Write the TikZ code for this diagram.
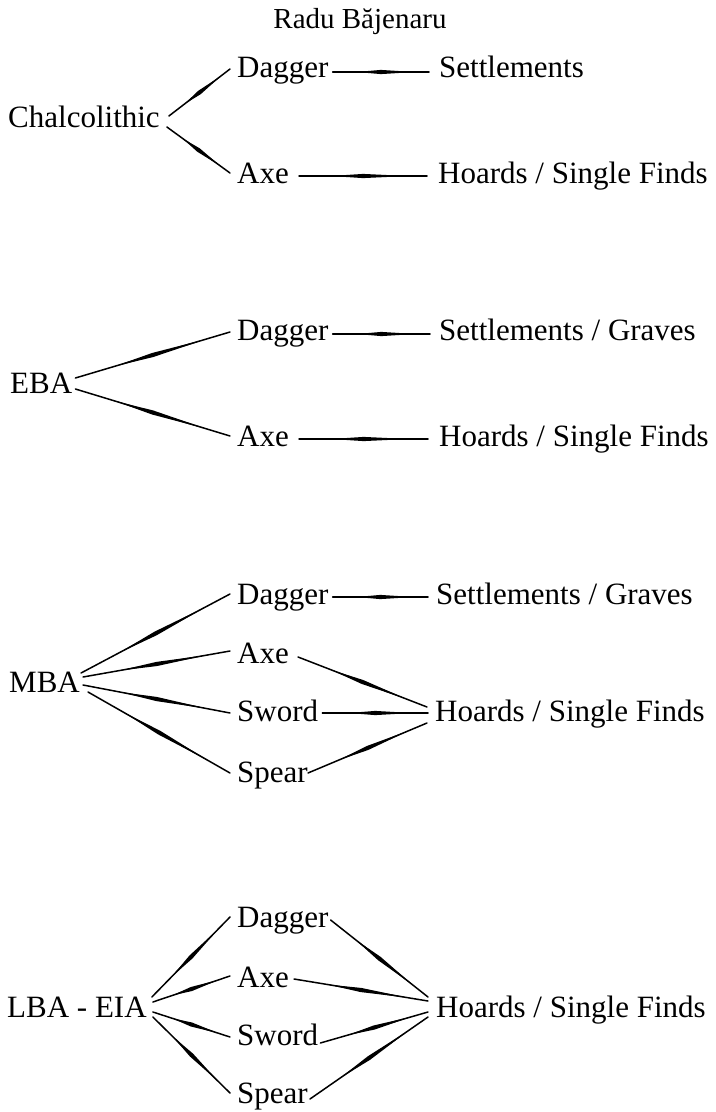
\documentclass[tikz,border=0pt]{standalone}
\usepackage{fontspec}
\setmainfont{Liberation Serif}
\usetikzlibrary{calc}
\tikzset{
  lbl/.style={inner sep=0pt, anchor=base west, font=\fontsize{31bp}{36bp}\selectfont},
  ttl/.style={inner sep=0pt, anchor=base, font=\fontsize{29bp}{32bp}\selectfont},
  conline/.style={line width=1.5bp, line cap=round},
}
\newcommand\conn[4]{%
  \coordinate (cp) at ($(#1)+(#2)$);
  \coordinate (cq) at ($(#3)+(#4)$);
  \draw[conline] (cp) -- (cq);
  \fill ($(cp)!0.25!(cq)$) -- ($(cp)!0.5!(cq)!2.1bp!90:(cq)$) -- ($(cp)!0.85!(cq)$) -- ($(cp)!0.5!(cq)!2.1bp!-90:(cq)$) -- cycle;}
\begin{document}
\begin{tikzpicture}[x=1bp,y=-1bp]
\path[use as bounding box, fill=white] (0,0) rectangle (716,1112);
\node[ttl] (title) at (360,28) {Radu Băjenaru};
% group 1
\node[lbl] (c1) at (8,127) {Chalcolithic};
\node[lbl] (d1) at (237,77) {Dagger};
\node[lbl] (a1) at (237,183) {Axe};
\node[lbl] (s1) at (439,77) {Settlements};
\node[lbl] (h1) at (438,183) {Hoards / Single Finds};
\conn{c1.base east}{9,-11}{d1.base west}{-7,-8}
\conn{c1.base east}{7,0}{a1.base west}{-7,-10}
\conn{d1.base east}{4,-5}{s1.base west}{-10,-5}
\conn{a1.base east}{10,-7}{h1.base west}{-11,-7}
% group 2
\node[lbl] (e2) at (10,393) {EBA};
\node[lbl] (d2) at (237,340) {Dagger};
\node[lbl] (a2) at (237,446) {Axe};
\node[lbl] (s2) at (439,340) {Settlements / Graves};
\node[lbl] (h2) at (439,446) {Hoards / Single Finds};
\conn{e2.base east}{3,-15}{d2.base west}{-7,-8}
\conn{e2.base east}{3,-4}{a2.base west}{-7,-10}
\conn{d2.base east}{4,-6}{s2.base west}{-9,-6}
\conn{a2.base east}{10,-7}{h2.base west}{-11,-7}
% group 3
\node[lbl] (m3) at (9,692) {MBA};
\node[lbl] (d3) at (237,604) {Dagger};
\node[lbl] (a3) at (237,663) {Axe};
\node[lbl] (w3) at (237,721) {Sword};
\node[lbl] (p3) at (237,782) {Spear};
\node[lbl] (s3) at (436,604) {Settlements / Graves};
\node[lbl] (h3) at (435,721) {Hoards / Single Finds};
\conn{m3.base east}{1,-19}{d3.base west}{-7,-10}
\conn{m3.base east}{3,-15}{a3.base west}{-7,-12}
\conn{m3.base east}{3,-7}{w3.base west}{-7,-8}
\conn{m3.base east}{8,0}{p3.base west}{-7,-9}
\conn{d3.base east}{4,-7}{s3.base west}{-8,-7}
\conn{a3.base east}{9,-6}{h3.base west}{-8,-14}
\conn{w3.base east}{4,-8}{h3.base west}{-7,-8}
\conn{p3.base east}{0,-9}{h3.base west}{-8,2}
% group 4
\node[lbl] (l4) at (7,1017) {LBA - EIA};
\node[lbl] (d4) at (237,927) {Dagger};
\node[lbl] (a4) at (237,987) {Axe};
\node[lbl] (w4) at (237,1045) {Sword};
\node[lbl] (p4) at (237,1103) {Spear};
\node[lbl] (h4) at (436,1017) {Hoards / Single Finds};
\conn{l4.base east}{5,-20}{d4.base west}{-7,-10}
\conn{l4.base east}{6,-15}{a4.base west}{-7,-11}
\conn{l4.base east}{6,-5}{w4.base west}{-7,-8}
\conn{l4.base east}{6,0}{p4.base west}{-7,-10}
\conn{d4.base east}{2,-7}{h4.base west}{-8,-20}
\conn{a4.base east}{5,-8}{h4.base west}{-8,-16}
\conn{w4.base east}{2,-2}{h4.base west}{-8,-5}
\conn{p4.base east}{2,-4}{h4.base west}{-8,0}
\end{tikzpicture}
\end{document}
